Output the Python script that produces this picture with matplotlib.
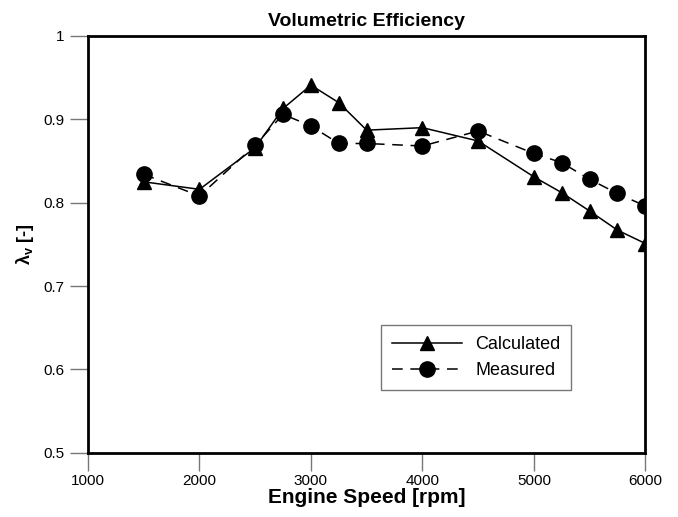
import matplotlib
matplotlib.use("Agg")
import matplotlib.pyplot as plt

plt.rcParams["font.family"] = ["Liberation Sans", "DejaVu Sans"]
plt.rcParams["mathtext.fontset"] = "custom"
plt.rcParams["mathtext.rm"] = "Liberation Sans"
plt.rcParams["mathtext.it"] = "Liberation Sans:italic"
plt.rcParams["mathtext.bf"] = "Liberation Sans:bold"

# engine speed [rpm]
rpm = [1500, 2000, 2500, 2750, 3000, 3250, 3500, 4000, 4500, 5000, 5250, 5500, 5750, 6000]
# volumetric efficiency
calculated = [0.825, 0.816, 0.866, 0.913, 0.941, 0.920, 0.887, 0.890, 0.874, 0.831, 0.812, 0.790, 0.767, 0.751]
measured = [0.834, 0.808, 0.869, 0.906, 0.892, 0.871, 0.871, 0.868, 0.886, 0.859, 0.848, 0.828, 0.811, 0.796]

xticks = [1000, 2000, 3000, 4000, 5000, 6000]
yticks = [0.5, 0.6, 0.7, 0.8, 0.9, 1.0]
ytick_labels = ["0.5", "0.6", "0.7", "0.8", "0.9", "1"]

fig = plt.figure(figsize=(6.78, 5.17), dpi=100)
ax = fig.add_axes([0.1298, 0.1244, 0.822, 0.806])

ax.plot(rpm, calculated, color="black", lw=1.1, marker="^", ms=10,
        label="Calculated", zorder=3)
ax.plot(rpm, measured, color="black", lw=1.1, ls=(0, (7, 5)), marker="o", ms=11,
        label="Measured", zorder=3)

ax.set_xlim(1000, 6000)
ax.set_ylim(0.5, 1.0)
ax.set_xticks(xticks)
ax.set_yticks(yticks)
ax.set_yticklabels(ytick_labels)
ax.tick_params(direction="out", length=13, width=1, color="#777777",
               labelsize=11, pad=4)
ax.tick_params(axis="x", pad=2)
for side in ["top", "bottom", "left", "right"]:
    ax.spines[side].set_linewidth(2)
    ax.spines[side].set_color("black")

ax.set_title("Volumetric Efficiency", fontsize=14, fontweight="bold", pad=7)
ax.set_xlabel("Engine Speed [rpm]", fontsize=15, fontweight="bold", labelpad=0)
ax.set_ylabel(r"$\mathbf{\lambda_v}$ [-]", fontsize=13, fontweight="bold", labelpad=5)

leg = ax.legend(loc="upper left", bbox_to_anchor=(0.526, 0.306), fontsize=13,
                frameon=True, fancybox=False, edgecolor="#555555",
                handlelength=3.9, borderpad=0.6, labelspacing=0.5,
                handletextpad=0.7, borderaxespad=0)
leg.get_frame().set_linewidth(1)

fig.savefig("out.png", dpi=100)
